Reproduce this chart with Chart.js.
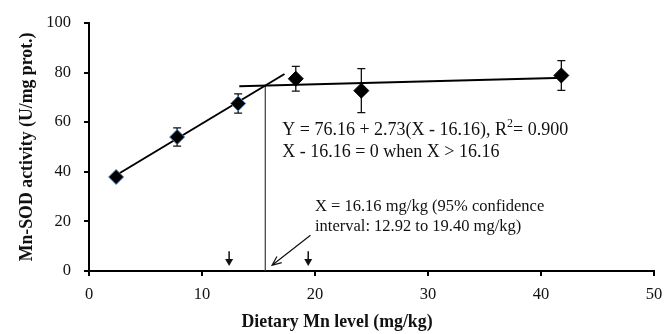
<!DOCTYPE html>
<html lang="en">
<head>
  <meta charset="UTF-8">
  <title>Mn-SOD activity vs dietary Mn level</title>
  <script src="https://cdn.jsdelivr.net/npm/chart.js"></script>
  <style>
    body {
      margin: 0;
      background: #fff;
    }
    .wrap {
      width: 664px;
      height: 334px;
    }
  </style>
</head>
<body>
  <div class="wrap"><canvas id="sodChart"></canvas></div>

  <script>
    // measured points (mean +/- SE)
    const mnLevel = [2.4, 7.8, 13.2, 18.3, 24.1, 41.8];
    const sodActivity = [37.9, 54.0, 67.5, 77.5, 72.7, 78.8];
    const sodError = [0.8, 3.7, 3.9, 5.0, 8.9, 6.0];

    // broken-line fit segments
    const riseX = [2.4, 17.3];
    const riseY = [38.6, 79.4];
    const plateauX = [13.3, 42.1];
    const plateauY = [74.5, 77.9];
    const breakX = [15.6, 15.6];
    const breakY = [0, 74.6];

    // 95% CI markers and the pointer arrow
    const ciX = [12.4, 19.4];
    const ciArrowY = [8, 2];
    const pointerFrom = [19.6, 14.4];
    const pointerTo = [16.2, 2.3];

    const xTicks = [0, 10, 20, 30, 40, 50];
    const yTicks = [0, 20, 40, 60, 80, 100];

    const notes = [
      { x: 17.1, y: 56.8, size: 18, text: 'Y = 76.16 + 2.73(X - 16.16), R', sup: '2', after: '= 0.900' },
      { x: 17.1, y: 47.7, size: 18, text: 'X - 16.16 = 0 when X > 16.16' },
      { x: 20.0, y: 26.0, size: 16.5, text: 'X = 16.16 mg/kg (95% confidence' },
      { x: 20.0, y: 18.0, size: 16.5, text: 'interval: 12.92 to 19.40 mg/kg)' }
    ];

    const xTitle = 'Dietary Mn level (mg/kg)';
    const serif = '"Liberation Serif", "Times New Roman", serif';

    const pts = mnLevel.map((x, i) => ({ x: x, y: sodActivity[i] }));
    const seg = (xs, ys) => xs.map((x, i) => ({ x: x, y: ys[i] }));

    // error bars behind the diamonds
    const errorBars = {
      id: 'errorBars',
      beforeDatasetsDraw(chart) {
        const { ctx, scales: { x, y } } = chart;
        ctx.save();
        ctx.strokeStyle = '#111';
        ctx.lineWidth = 1.3;
        mnLevel.forEach((v, i) => {
          const px = x.getPixelForValue(v);
          const top = y.getPixelForValue(sodActivity[i] + sodError[i]);
          const bot = y.getPixelForValue(sodActivity[i] - sodError[i]);
          ctx.beginPath();
          ctx.moveTo(px, top); ctx.lineTo(px, bot);
          ctx.moveTo(px - 4, top); ctx.lineTo(px + 4, top);
          ctx.moveTo(px - 4, bot); ctx.lineTo(px + 4, bot);
          ctx.stroke();
        });
        ctx.restore();
      }
    };

    const annotations = {
      id: 'annotations',
      afterDatasetsDraw(chart) {
        const { ctx, scales: { x, y } } = chart;
        ctx.save();
        ctx.strokeStyle = '#111';
        ctx.fillStyle = '#111';

        // CI down arrows
        ciX.forEach(v => {
          const px = x.getPixelForValue(v);
          const y0 = y.getPixelForValue(ciArrowY[0]);
          const y1 = y.getPixelForValue(ciArrowY[1]);
          ctx.lineWidth = 1.5;
          ctx.beginPath();
          ctx.moveTo(px, y0); ctx.lineTo(px, y1 - 5);
          ctx.stroke();
          ctx.beginPath();
          ctx.moveTo(px - 4, y1 - 7); ctx.lineTo(px + 4, y1 - 7); ctx.lineTo(px, y1);
          ctx.closePath();
          ctx.fill();
        });

        // pointer arrow with open head
        const ax = x.getPixelForValue(pointerFrom[0]), ay = y.getPixelForValue(pointerFrom[1]);
        const bx = x.getPixelForValue(pointerTo[0]), by = y.getPixelForValue(pointerTo[1]);
        const ang = Math.atan2(by - ay, bx - ax);
        ctx.lineWidth = 1.2;
        ctx.beginPath();
        ctx.moveTo(ax, ay); ctx.lineTo(bx, by);
        ctx.moveTo(bx - 10 * Math.cos(ang - 0.4), by - 10 * Math.sin(ang - 0.4));
        ctx.lineTo(bx, by);
        ctx.lineTo(bx - 10 * Math.cos(ang + 0.4), by - 10 * Math.sin(ang + 0.4));
        ctx.stroke();

        // text notes
        ctx.textBaseline = 'middle';
        ctx.textAlign = 'left';
        notes.forEach(n => {
          let px = x.getPixelForValue(n.x);
          const py = y.getPixelForValue(n.y);
          ctx.font = n.size + 'px ' + serif;
          ctx.fillText(n.text, px, py);
          if (n.sup) {
            px += ctx.measureText(n.text).width;
            ctx.font = '12px ' + serif;
            ctx.fillText(n.sup, px, py - 6);
            px += ctx.measureText(n.sup).width;
            ctx.font = n.size + 'px ' + serif;
            ctx.fillText(n.after, px, py);
          }
        });

        // x axis title, centred on the page like the original
        ctx.font = 'bold 17.8px ' + serif;
        ctx.textAlign = 'center';
        ctx.fillText(xTitle, chart.width / 2 + 5, 322);
        ctx.restore();
      }
    };

    new Chart(document.getElementById('sodChart'), {
      type: 'scatter',
      data: {
        datasets: [
          {
            data: pts,
            pointStyle: 'rectRot',
            pointRadius: 7.5,
            pointHoverRadius: 7.5,
            backgroundColor: '#000',
            borderColor: ['#4f81bd', '#4f81bd', '#4f81bd', '#000', '#000', '#000'],
            borderWidth: 1,
            order: 0
          },
          {
            data: seg(riseX, riseY),
            showLine: true,
            pointRadius: 0,
            borderColor: '#000',
            borderWidth: 2,
            order: 1
          },
          {
            data: seg(plateauX, plateauY),
            showLine: true,
            pointRadius: 0,
            borderColor: '#000',
            borderWidth: 2,
            order: 1
          },
          {
            data: seg(breakX, breakY),
            showLine: true,
            pointRadius: 0,
            borderColor: '#3a3a3a',
            borderWidth: 1.2,
            order: 2
          }
        ]
      },
      options: {
        responsive: true,
        maintainAspectRatio: false,
        animation: false,
        layout: { padding: { top: 21, right: 10, left: 0, bottom: 0 } },
        plugins: {
          legend: { display: false },
          tooltip: { enabled: false }
        },
        scales: {
          x: {
            type: 'linear',
            min: 0,
            max: 50,
            afterBuildTicks: s => { s.ticks = xTicks.map(v => ({ value: v })); },
            afterFit: s => { s.height = 63; s.paddingRight = 0; s.paddingLeft = 0; },
            border: { color: '#000', width: 2 },
            grid: { drawOnChartArea: false, tickLength: 5, color: '#000', lineWidth: 2 },
            ticks: { color: '#111', padding: 9, font: { family: serif, size: 16.5 } },
            title: { display: false }
          },
          y: {
            type: 'linear',
            min: 0,
            max: 100,
            afterBuildTicks: s => { s.ticks = yTicks.map(v => ({ value: v })); },
            afterFit: s => { s.width = 89; },
            border: { color: '#000', width: 2 },
            grid: { drawOnChartArea: false, tickLength: 5, color: '#000', lineWidth: 2 },
            ticks: { color: '#111', padding: 13, font: { family: serif, size: 16.5 } },
            title: {
              display: true,
              text: 'Mn-SOD activity (U/mg prot.)',
              color: '#111',
              font: { family: serif, size: 17.8, weight: 'bold' },
              padding: { top: 17, bottom: 0 }
            }
          }
        }
      },
      plugins: [errorBars, annotations]
    });
  </script>
</body>
</html>
